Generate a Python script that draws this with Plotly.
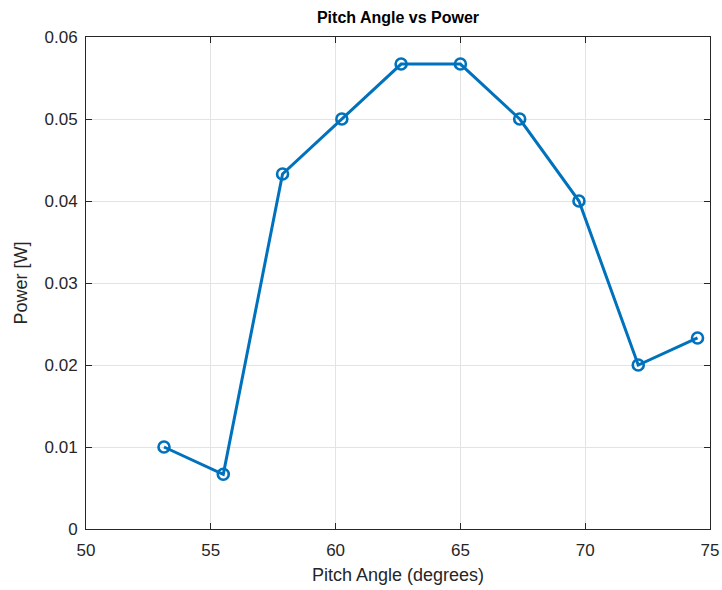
import plotly.graph_objects as go

pitch = [53.125, 55.5, 57.875, 60.25, 62.625, 65.0, 67.375, 69.75, 72.125, 74.5]
power = [0.0100, 0.00667, 0.0433, 0.0500, 0.0567, 0.0567, 0.0500, 0.0400, 0.0200, 0.0233]
xticks = [50, 55, 60, 65, 70, 75]
yticks = [0, 0.01, 0.02, 0.03, 0.04, 0.05, 0.06]
ytext = ["0", "0.01", "0.02", "0.03", "0.04", "0.05", "0.06"]

FONT = "Arial, Liberation Sans, sans-serif"

fig = go.Figure()
fig.add_trace(go.Scatter(
    x=pitch, y=power, mode="lines+markers",
    line=dict(color="#0072BD", width=3),
    marker=dict(symbol="circle-open", size=11, color="#0072BD", line=dict(width=2.6, color="#0072BD")),
    showlegend=False,
))

axis_common = dict(
    showline=True, linecolor="#262626", linewidth=1, mirror="ticks",
    ticks="inside", ticklen=6, tickcolor="#262626",
    showgrid=True, gridcolor="#e3e3e3", gridwidth=1, zeroline=False,
    automargin=False,
    tickfont=dict(family=FONT, size=17, color="#262626"),
)

fig.update_layout(
    width=722, height=590,
    margin=dict(l=86, r=12, t=37, b=61, autoexpand=False),
    paper_bgcolor="white", plot_bgcolor="white",
    title=dict(text="<b>Pitch Angle vs Power</b>", x=0.5, xanchor="center", xref="paper",
               y=1, yref="container", yanchor="top", pad=dict(t=12),
               font=dict(family=FONT, size=16, color="#000000")),
    xaxis=dict(range=[50, 75], tickvals=xticks, ticktext=[str(v) for v in xticks],
               ticklabelstandoff=6,
               title=dict(text="Pitch Angle (degrees)", standoff=8,
                          font=dict(family=FONT, size=18, color="#262626")),
               **axis_common),
    yaxis=dict(range=[0, 0.06], tickvals=yticks, ticktext=ytext,
               ticklabelstandoff=4,
               title=dict(text="Power [W]", standoff=12,
                          font=dict(family=FONT, size=18, color="#262626")),
               **axis_common),
)

fig.write_html("out.html")
